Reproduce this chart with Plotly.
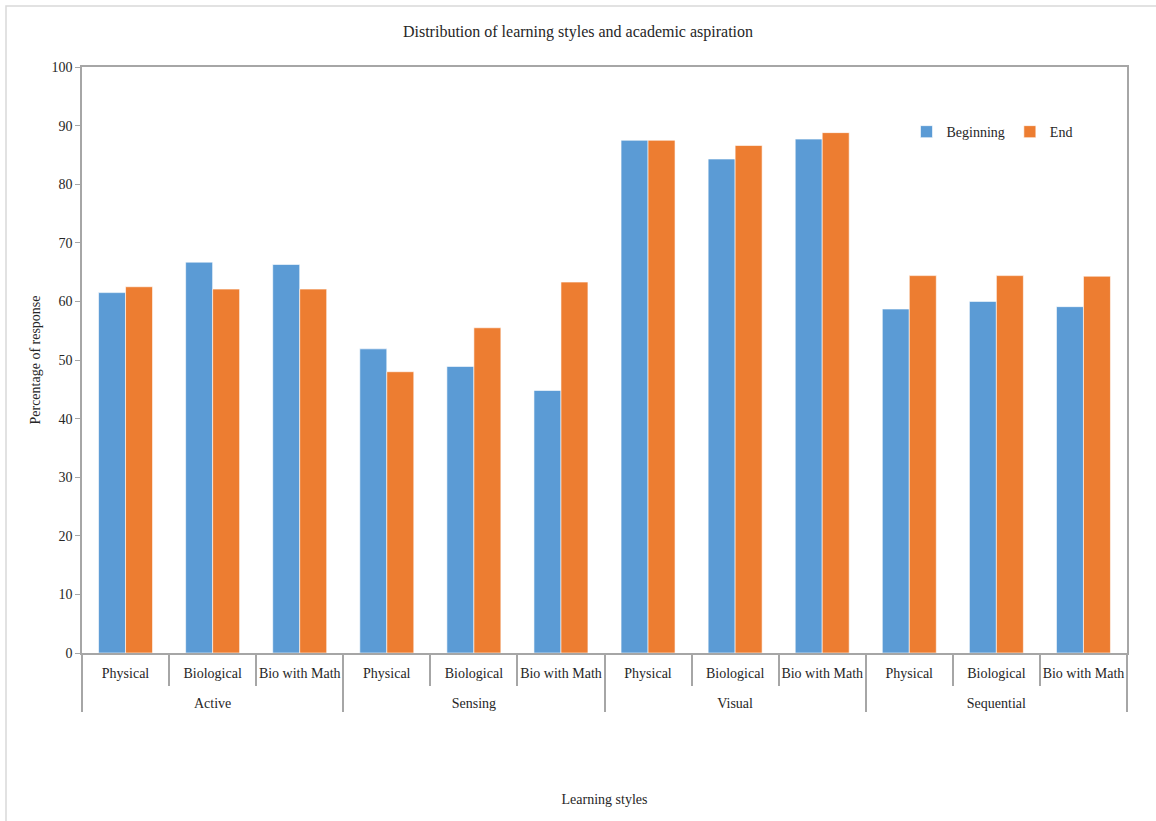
import plotly.graph_objects as go

groups = ["Active", "Sensing", "Visual", "Sequential"]
streams = ["Physical", "Biological", "Bio with Math"]
beginning = [61.5, 66.7, 66.3, 51.9, 48.9, 44.8, 87.5, 84.3, 87.7, 58.7, 60.0, 59.1]
end = [62.5, 62.1, 62.1, 48.0, 55.5, 63.3, 87.5, 86.6, 88.8, 64.4, 64.4, 64.3]
y_ticks = list(range(0, 101, 10))

outer = [g for g in groups for _ in streams]
# trailing empty line gives the two label rows the reference's spacing
inner = [s + "<br><span style='font-size:19px'> </span>" for _ in groups for s in streams]

FONT = "Liberation Serif"
BLUE = "#5B9BD5"
ORANGE = "#ED7D31"
AXIS = "#A6A6A6"

fig = go.Figure()
fig.add_trace(go.Bar(x=[outer, inner], y=beginning, name="Beginning",
                     marker=dict(color=BLUE, line=dict(color="rgba(255,255,255,0.6)", width=1))))
fig.add_trace(go.Bar(x=[outer, inner], y=end, name="End",
                     marker=dict(color=ORANGE, line=dict(color="rgba(255,255,255,0.6)", width=1))))
# invisible helper trace for the separator ticks axis
fig.add_trace(go.Bar(x=[outer, inner], y=end, xaxis="x2", showlegend=False,
                     hoverinfo="skip", marker=dict(opacity=0)))

fig.update_layout(
    width=1156, height=821,
    margin=dict(l=82, r=29, t=67, b=168, autoexpand=False),
    paper_bgcolor="white", plot_bgcolor="white",
    font=dict(family=FONT, size=14, color="#262626"),
    barmode="group", bargap=0.38, bargroupgap=0,
    title=dict(text="Distribution of learning styles and academic aspiration",
               x=0.5, xanchor="center", y=1 - 31 / 821, yanchor="middle",
               font=dict(family=FONT, size=16, color="#262626")),
    legend=dict(orientation="h", x=0.789, xanchor="left", y=0.889, yanchor="middle",
                font=dict(family=FONT, size=14), bgcolor="rgba(0,0,0,0)"),
    xaxis=dict(type="multicategory", showline=True, linecolor=AXIS, linewidth=1.5,
               mirror=True, ticks="", ticklabelstandoff=6,
               showdividers=True, dividercolor=AXIS,
               dividerwidth=1.5, showgrid=False, tickangle=0, automargin=False,
               tickfont=dict(family=FONT, size=14),
               title=dict(text="Learning styles", standoff=84,
                          font=dict(family=FONT, size=14))),
    xaxis2=dict(type="multicategory", overlaying="x", anchor="y", side="bottom",
                showticklabels=False, ticks="outside", tickson="boundaries",
                ticklen=32, tickcolor=AXIS, tickwidth=1.5, showline=False,
                showgrid=False, showdividers=False, automargin=False),
    yaxis=dict(range=[0, 100], tickvals=y_ticks, showline=True, linecolor=AXIS,
               linewidth=1.5, mirror=True, ticks="outside", ticklen=5,
               tickcolor=AXIS, showgrid=False, zeroline=False, automargin=False,
               title=dict(text="Percentage of response", standoff=8,
                          font=dict(family=FONT, size=14))),
    shapes=[dict(type="rect", xref="paper", yref="paper",
                 x0=(6 - 82) / 1045, x1=(1170 - 82) / 1045,
                 y0=(653 - 900) / 586, y1=(653 - 6) / 586,
                 line=dict(color="#D9D9D9", width=1.5), layer="below")],
)

fig.write_html("out.html")
